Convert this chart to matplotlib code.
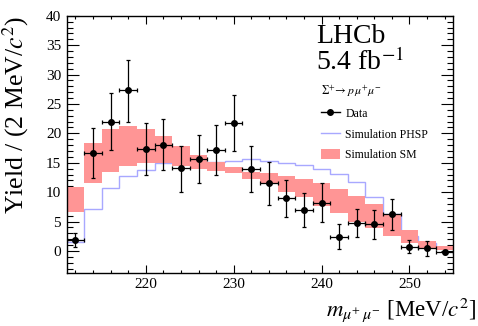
import numpy as np
import matplotlib
matplotlib.use('Agg')
import matplotlib.pyplot as plt
from matplotlib.lines import Line2D
from matplotlib.patches import Patch
from matplotlib.ticker import MultipleLocator

plt.rcParams.update({'font.family': 'Liberation Serif', 'mathtext.fontset': 'stix',
                     'font.size': 11, 'axes.linewidth': 1.0})

SM_RED, PHSP_BLUE = '#ff9595', '#a8a8ff'

# 2 MeV/c^2 bins from 211 to 255
bin_edges = np.arange(211, 256, 2)
bin_centers = 0.5 * (bin_edges[:-1] + bin_edges[1:])

data_yield = [1.8, 16.6, 22.0, 27.3, 17.3, 18.1, 14.1, 15.7, 17.2, 21.8, 14.0,
              11.5, 9.0, 7.0, 8.2, 2.4, 4.8, 4.5, 6.2, 0.7, 0.5, -0.2]
err_up = [1.3, 4.3, 4.9, 5.2, 4.5, 4.3, 3.8, 4.1, 4.3, 4.7, 3.9,
          3.6, 3.1, 2.8, 3.3, 2.2, 2.4, 2.4, 2.6, 1.2, 1.2, 0.4]
err_down = [1.1, 4.2, 4.8, 5.3, 4.4, 4.4, 4.0, 4.2, 4.3, 4.8, 3.9,
            3.7, 3.2, 2.9, 3.2, 2.1, 2.4, 2.4, 2.6, 1.1, 1.3, 0.4]

sm_low = [6.7, 11.5, 13.5, 14.5, 14.9, 15.0, 14.5, 13.9, 13.6, 13.2, 12.3,
          11.5, 10.1, 9.2, 7.6, 6.4, 5.0, 3.9, 2.5, 1.3, 0.55, 0.1]
sm_high = [10.9, 18.3, 20.8, 21.2, 20.8, 19.6, 17.9, 16.3, 15.2, 14.2, 13.5,
           13.2, 12.8, 12.3, 11.6, 10.6, 9.4, 8.0, 6.2, 3.5, 1.7, 0.8]

phsp = [1.5, 7.1, 10.7, 12.7, 13.8, 14.9, 15.0, 15.1, 15.1, 15.3, 15.6,
        15.3, 15.0, 14.7, 13.9, 13.1, 11.7, 9.25, 6.2, 2.5, 1.3, 0.5]

fig = plt.figure(figsize=(4.78, 3.26), dpi=100)
ax = fig.add_axes([0.1395, 0.1617, 0.809, 0.790])

ax.stairs(phsp, bin_edges, baseline=None, color=PHSP_BLUE, lw=1.0, zorder=1)
ax.bar(bin_centers, np.array(sm_high) - np.array(sm_low), bottom=sm_low, width=2,
       color=SM_RED, lw=0, zorder=2)
ax.errorbar(bin_centers, data_yield, yerr=[err_down, err_up], xerr=1, fmt='o',
            color='k', ms=4, elinewidth=0.9, capsize=1.5, capthick=0.9, zorder=3)

ax.set_xlim(211, 255)
ax.set_ylim(-3.8, 40)
ax.xaxis.set_major_locator(MultipleLocator(10))
ax.xaxis.set_minor_locator(MultipleLocator(2))
ax.yaxis.set_major_locator(MultipleLocator(5))
ax.yaxis.set_minor_locator(MultipleLocator(1))
ax.tick_params(which='both', direction='in', top=True, right=True, width=0.8)
ax.tick_params(axis='x', which='major', length=6, pad=3.5)
ax.tick_params(axis='x', which='minor', length=2.5)
ax.tick_params(axis='y', which='major', length=8.4, pad=4)
ax.tick_params(axis='y', which='minor', length=4.1)

ax.set_xlabel(r'$m_{\mu^{+}\,\mu^{-}}$ [MeV/$c^2$]', fontsize=16.5, ha='right', va='center')
ax.xaxis.set_label_coords(1.058, -0.14)
ax.set_ylabel(r'Yield / (2 MeV/$c^2$)', fontsize=18.5)
ax.yaxis.set_label_coords(-0.131, 1.0)
ax.yaxis.label.set_verticalalignment('center')
ax.yaxis.label.set_horizontalalignment('right')

ax.text(0.645, 0.894, 'LHCb', transform=ax.transAxes, fontsize=20, va='baseline')
ax.text(0.645, 0.789, r'5.4 fb$^{-1}$', transform=ax.transAxes, fontsize=20, va='baseline')

handles = [Line2D([], [], color='k', marker='o', ms=4, lw=1),
           Line2D([], [], color=PHSP_BLUE, lw=1),
           Patch(color=SM_RED, lw=0)]
labels = ['Data', 'Simulation PHSP', 'Simulation SM']
leg = ax.legend(handles, labels, loc='upper left', bbox_to_anchor=(0.63, 0.777),
                frameon=False, fontsize=8.5, handlelength=1.6, handletextpad=0.45,
                handleheight=1.0, labelspacing=0.7,
                title=r'$\mathit{\Sigma}^{+}\!\rightarrow p\,\mu^{+}\mu^{-}$',
                title_fontsize=8.5, alignment='left')

plt.savefig('out.png', dpi=100)
plt.close()
